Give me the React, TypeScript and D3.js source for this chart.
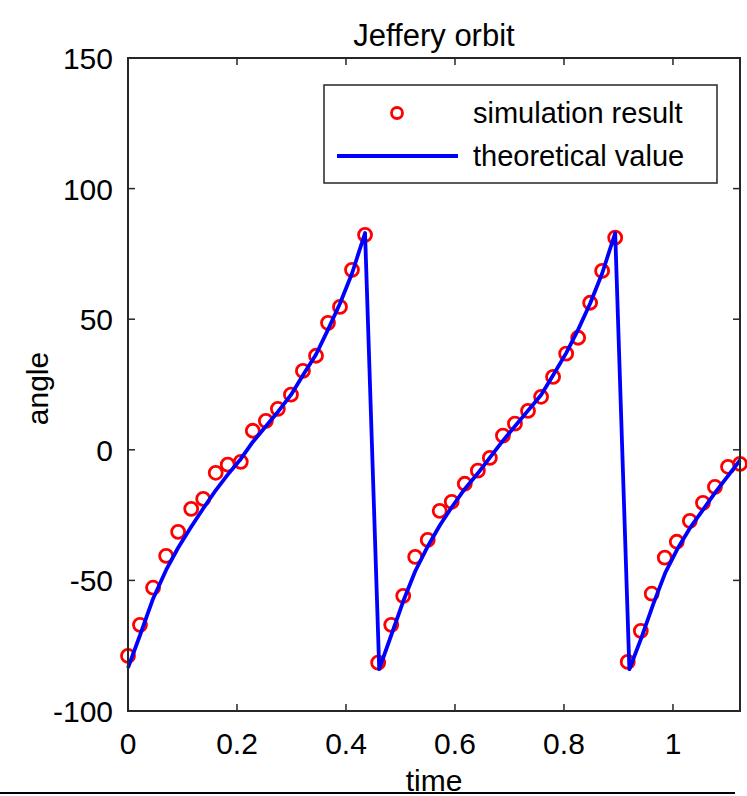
import React from "react";
import * as d3 from "d3";

// simulation result (red circles)
const simTime = [
  0, 0.022, 0.046, 0.07, 0.092, 0.116, 0.138, 0.161, 0.183, 0.207,
  0.229, 0.253, 0.275, 0.299, 0.321, 0.345, 0.367, 0.389, 0.411, 0.435,
  0.459, 0.483, 0.505, 0.527, 0.55, 0.572, 0.594, 0.618, 0.642, 0.664,
  0.688, 0.71, 0.734, 0.758, 0.78, 0.804, 0.826, 0.848, 0.87, 0.894,
  0.917, 0.941, 0.961, 0.985, 1.007, 1.031, 1.055, 1.077, 1.101, 1.123,
];
const simAngle = [
  -78.9, -67.0, -52.8, -40.6, -31.4, -22.6, -18.8, -8.8, -5.7, -4.6,
  7.3, 11.1, 15.7, 21.1, 30.2, 36.0, 48.6, 54.7, 68.9, 82.3,
  -81.5, -67.0, -55.9, -41.0, -34.5, -23.4, -19.9, -13.0, -8.0, -3.1,
  5.4, 10.0, 14.9, 20.3, 27.9, 36.8, 42.9, 56.3, 68.5, 81.2,
  -81.2, -69.3, -55.1, -41.3, -35.2, -27.2, -20.3, -14.2, -6.5, -5.4,
];

// theoretical value (blue line)
const theoTime = [
  0, 0.022, 0.046, 0.07, 0.092, 0.116, 0.138, 0.161, 0.183, 0.207,
  0.229, 0.253, 0.275, 0.299, 0.321, 0.345, 0.367, 0.389, 0.411, 0.435,
  0.461, 0.483, 0.505, 0.527, 0.55, 0.572, 0.594, 0.618, 0.642, 0.664,
  0.688, 0.71, 0.734, 0.758, 0.78, 0.804, 0.826, 0.848, 0.87, 0.894,
  0.92, 0.942, 0.964, 0.986, 1.008, 1.031, 1.055, 1.077, 1.101, 1.123,
];
const theoAngle = [
  -83.5, -71, -57, -46, -37.5, -29.5, -22.5, -15.5, -9.5, -3.5,
  3, 9, 14.5, 21, 28.5, 36.5, 46, 56, 67.5, 83,
  -84, -71, -58, -46.5, -37, -29, -22, -15, -9, -3,
  3.5, 9, 15, 21, 28.5, 37, 46, 56, 67.5, 83,
  -84, -72, -59, -47, -38, -30, -23, -16.5, -10, -4,
];

const xTicks = [0, 0.2, 0.4, 0.6, 0.8, 1];
const yTicks = [-100, -50, 0, 50, 100, 150];

const W = 747, H = 796;
const left = 128, right = 740, top = 58, bottom = 711;
const ink = "#262626";
const font = "'Liberation Sans', Arial, Helvetica, sans-serif";
const fs = 30;

export default function App() {
  const x = d3.scaleLinear().domain([0, 1.123]).range([left, right]);
  const y = d3.scaleLinear().domain([-100, 150]).range([bottom, top]);

  const line = d3.line<number>()
    .x((_, i) => x(theoTime[i]))
    .y(d => y(d));

  const tickLen = 7;

  return (
    <svg width={W} height={H} style={{ position: "absolute", left: 0, top: 0, background: "#fff" }}
      fontFamily={font}>
      <rect x={0} y={0} width={W} height={H} fill="#fff" />

      {/* title */}
      <text x={(left + right) / 2} y={46} textAnchor="middle" fontSize={31} fill="#000">Jeffery orbit</text>

      {/* ticks */}
      {xTicks.map((d, i) => (
        <g key={"xt" + i}>
          <line x1={x(d)} x2={x(d)} y1={bottom} y2={bottom - tickLen} stroke={ink} strokeWidth={1.5} />
          <line x1={x(d)} x2={x(d)} y1={top} y2={top + tickLen} stroke={ink} strokeWidth={1.5} />
          <text x={x(d)} y={754} textAnchor="middle" fontSize={fs} fill="#000">{d3.format("~g")(d)}</text>
        </g>
      ))}
      {yTicks.map((d, i) => (
        <g key={"yt" + i}>
          <line x1={left} x2={left + tickLen} y1={y(d)} y2={y(d)} stroke={ink} strokeWidth={1.5} />
          <line x1={right} x2={right - tickLen} y1={y(d)} y2={y(d)} stroke={ink} strokeWidth={1.5} />
          <text x={113} y={y(d) + 11} textAnchor="end" fontSize={fs} fill="#000">{d}</text>
        </g>
      ))}

      {/* axis labels */}
      <text x={(left + right) / 2} y={791} textAnchor="middle" fontSize={fs} fill="#000">time</text>
      <text transform={`translate(48,${(top + bottom) / 2 + 4}) rotate(-90)`} textAnchor="middle" fontSize={fs} fill="#000">angle</text>

      {/* data */}
      {simAngle.map((d, i) => (
        <circle key={"c" + i} cx={x(simTime[i])} cy={y(d)} r={6.5} fill="none" stroke="#ff0000" strokeWidth={2.8} />
      ))}
      <path d={line(theoAngle) || ""} fill="none" stroke="#0000ff" strokeWidth={3.8} strokeLinejoin="round" />

      {/* box */}
      <rect x={left} y={top} width={right - left} height={bottom - top} fill="none" stroke={ink} strokeWidth={2} />

      {/* legend */}
      <rect x={324} y={85} width={393} height={98} fill="#fff" stroke={ink} strokeWidth={1.5} />
      <circle cx={397} cy={113} r={5.5} fill="none" stroke="#ff0000" strokeWidth={2.8} />
      <line x1={337} x2={458} y1={156} y2={156} stroke="#0000ff" strokeWidth={3.8} />
      <text x={473} y={123} fontSize={29} fill="#000">simulation result</text>
      <text x={473} y={166} fontSize={29} fill="#000">theoretical value</text>

      {/* bottom rule */}
      <line x1={0} x2={735} y1={793} y2={793} stroke="#000" strokeWidth={2} />
    </svg>
  );
}
